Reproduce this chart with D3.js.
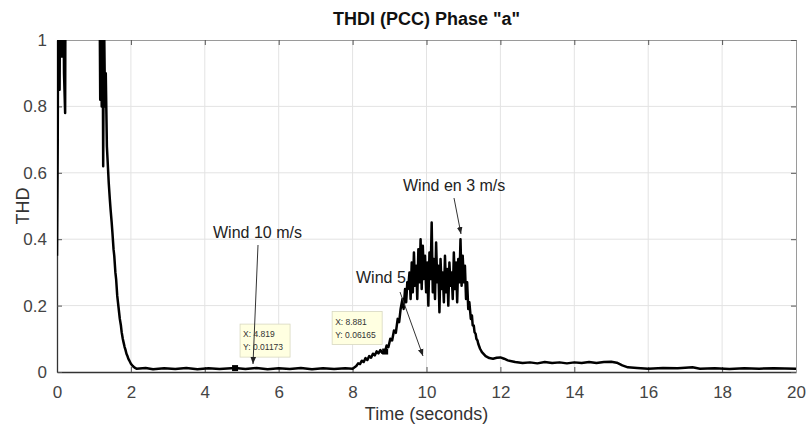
<!DOCTYPE html>
<html>
<head>
<meta charset="utf-8">
<script src="https://cdn.jsdelivr.net/npm/d3@7"></script>
<style>
  body { margin: 0; background: #fff; }
  svg { display: block; font-family: "Liberation Sans", Arial, sans-serif; }
</style>
</head>
<body>
<svg id="chart" width="807" height="436"></svg>
<script>
// [time (s), THD], segment by segment
const startUp = [
  [0.00, 0.35], [0.02, 0.70], [0.04, 1.40], [0.07, 0.85], [0.10, 1.50], [0.13, 0.95],
  [0.16, 1.40], [0.19, 0.90], [0.22, 0.78], [0.24, 1.60], [0.40, 1.80], [0.80, 1.90],
  [1.12, 1.70], [1.15, 1.20], [1.17, 0.82], [1.19, 1.30], [1.21, 0.80], [1.23, 1.20],
  [1.25, 0.62], [1.27, 1.10], [1.30, 0.80], [1.32, 0.90], [1.35, 0.68], [1.40, 0.57],
  [1.43, 0.52], [1.45, 0.49], [1.48, 0.45], [1.50, 0.42], [1.53, 0.37], [1.55, 0.35],
  [1.58, 0.30], [1.60, 0.28], [1.63, 0.23], [1.65, 0.21], [1.68, 0.18], [1.70, 0.16],
  [1.73, 0.14], [1.75, 0.12], [1.78, 0.10], [1.80, 0.09], [1.83, 0.075], [1.85, 0.068],
  [1.88, 0.055], [1.90, 0.05], [1.93, 0.04], [1.95, 0.036], [2.00, 0.025],
  [2.05, 0.018], [2.10, 0.013], [2.15, 0.010]
];
const wind10 = [
  [2.4, 0.012], [2.6, 0.008], [2.9, 0.011], [3.2, 0.009], [3.5, 0.012], [3.8, 0.008],
  [4.1, 0.011], [4.4, 0.009], [4.819, 0.01173], [5.1, 0.009], [5.4, 0.012], [5.7, 0.008],
  [6.0, 0.011], [6.3, 0.009], [6.6, 0.012], [6.9, 0.008], [7.2, 0.011], [7.5, 0.009],
  [7.8, 0.011], [8.0, 0.010]
];
const wind5 = [
  [8.10, 0.018], [8.15, 0.026], [8.20, 0.024], [8.25, 0.034], [8.30, 0.030], [8.35, 0.042],
  [8.40, 0.036], [8.45, 0.048], [8.50, 0.043], [8.55, 0.055], [8.60, 0.050], [8.65, 0.062],
  [8.70, 0.056], [8.75, 0.066], [8.80, 0.058], [8.881, 0.06165], [8.92, 0.080], [8.97, 0.075],
  [9.02, 0.100], [9.07, 0.095], [9.12, 0.125], [9.17, 0.118], [9.22, 0.160], [9.26, 0.150],
  [9.30, 0.19], [9.35, 0.22], [9.38, 0.19], [9.42, 0.25], [9.45, 0.21], [9.48, 0.27]
];
const wind3 = [
  [9.50, 0.25], [9.54, 0.30], [9.57, 0.22], [9.60, 0.33], [9.63, 0.24], [9.66, 0.36],
  [9.69, 0.26], [9.72, 0.32], [9.75, 0.22], [9.78, 0.37], [9.81, 0.27], [9.84, 0.40],
  [9.87, 0.25], [9.90, 0.38], [9.93, 0.28], [9.96, 0.35], [9.99, 0.24], [10.02, 0.33],
  [10.05, 0.20], [10.08, 0.36], [10.11, 0.28], [10.14, 0.45], [10.17, 0.24], [10.20, 0.34],
  [10.23, 0.22], [10.26, 0.39], [10.29, 0.27], [10.32, 0.32], [10.35, 0.18], [10.38, 0.34],
  [10.41, 0.25], [10.44, 0.30], [10.47, 0.21], [10.50, 0.35], [10.53, 0.24], [10.56, 0.31],
  [10.59, 0.20], [10.62, 0.33], [10.65, 0.26], [10.68, 0.30], [10.71, 0.22], [10.74, 0.36],
  [10.77, 0.25], [10.80, 0.33], [10.83, 0.21], [10.86, 0.34], [10.89, 0.27], [10.92, 0.40],
  [10.95, 0.26], [10.98, 0.35], [11.01, 0.27], [11.04, 0.32], [11.07, 0.22], [11.10, 0.27],
  [11.13, 0.19], [11.16, 0.21], [11.20, 0.16], [11.23, 0.17], [11.25, 0.14], [11.28, 0.14],
  [11.30, 0.12], [11.33, 0.115], [11.35, 0.10], [11.38, 0.095], [11.40, 0.085], [11.45, 0.07],
  [11.50, 0.06]
];
const tail = [
  [11.60, 0.048], [11.70, 0.042], [11.80, 0.040], [11.90, 0.043], [12.00, 0.044], [12.10, 0.040],
  [12.20, 0.035], [12.40, 0.030], [12.60, 0.027], [12.80, 0.029], [13.00, 0.026], [13.20, 0.030],
  [13.40, 0.027], [13.60, 0.029], [13.80, 0.026], [14.00, 0.029], [14.20, 0.027], [14.40, 0.030],
  [14.60, 0.027], [14.80, 0.030], [15.00, 0.031], [15.15, 0.028], [15.30, 0.020], [15.45, 0.014],
  [15.70, 0.012], [16.00, 0.010], [16.40, 0.012], [16.80, 0.011], [17.20, 0.014], [17.40, 0.010],
  [17.80, 0.011], [18.20, 0.009], [18.60, 0.011], [19.00, 0.010], [19.40, 0.011], [20.00, 0.010]
];

const xTicks = [0, 2, 4, 6, 8, 10, 12, 14, 16, 18, 20];
const yTicks = [0, 0.2, 0.4, 0.6, 0.8, 1];
const dataTips = [
  { t: 4.819, v: 0.01173, lx: 'X: 4.819', ly: 'Y: 0.01173' },
  { t: 8.881, v: 0.06165, lx: 'X: 8.881', ly: 'Y: 0.06165' }
];

const signal = startUp.concat(wind10, wind5, wind3, tail);

const margin = { top: 40, right: 11, bottom: 64, left: 57 };
const width = 807, height = 436;
const w = width - margin.left - margin.right;
const h = height - margin.top - margin.bottom;

const svg = d3.select('#chart');
const g = svg.append('g').attr('transform', `translate(${margin.left},${margin.top})`);

const x = d3.scaleLinear().domain([0, 20]).range([0, w]);
const y = d3.scaleLinear().domain([0, 1]).range([h, 0]);

// grid
g.append('g').selectAll('line.vg').data(xTicks.slice(1, -1)).join('line')
  .attr('x1', d => x(d)).attr('x2', d => x(d)).attr('y1', 0).attr('y2', h)
  .attr('stroke', '#e3e3e3').attr('stroke-width', 1);
g.append('g').selectAll('line.hg').data(yTicks.slice(1, -1)).join('line')
  .attr('y1', d => y(d)).attr('y2', d => y(d)).attr('x1', 0).attr('x2', w)
  .attr('stroke', '#e3e3e3').attr('stroke-width', 1);

// axes (MATLAB style, ticks inward)
const xAxis = g.append('g').attr('transform', `translate(0,${h})`)
  .call(d3.axisBottom(x).tickValues(xTicks).tickSizeInner(-5).tickSizeOuter(0).tickPadding(14));
const yAxis = g.append('g')
  .call(d3.axisLeft(y).tickValues(yTicks).tickFormat(d3.format('~g')).tickSizeInner(-5).tickSizeOuter(0).tickPadding(10));
g.append('g').call(d3.axisTop(x).tickValues(xTicks).tickSizeInner(-5).tickSizeOuter(0).tickFormat(''));
g.append('g').attr('transform', `translate(${w},0)`)
  .call(d3.axisRight(y).tickValues(yTicks).tickSizeInner(-5).tickSizeOuter(0).tickFormat(''));

svg.selectAll('.domain').attr('stroke', '#9a9a9a');
xAxis.select('.domain').attr('stroke', '#333').attr('stroke-width', 1.3);
yAxis.select('.domain').attr('stroke', '#333').attr('stroke-width', 1.3);
svg.selectAll('.tick line').attr('stroke', '#555');
svg.selectAll('.tick text').attr('fill', '#444').style('font-size', '17px');

// signal
svg.append('defs').append('clipPath').attr('id', 'clip')
  .append('rect').attr('width', w).attr('height', h);
g.append('path').datum(signal)
  .attr('clip-path', 'url(#clip)')
  .attr('fill', 'none').attr('stroke', '#000').attr('stroke-width', 2.5)
  .attr('stroke-linejoin', 'round')
  .attr('d', d3.line().x(d => x(d[0])).y(d => y(d[1])));

// data tip markers and boxes
g.selectAll('rect.mk').data(dataTips).join('rect')
  .attr('x', d => x(d.t) - 3).attr('y', d => y(d.v) - 3)
  .attr('width', 6).attr('height', 6).attr('fill', '#000');

const boxes = [[5, -44, 50, 33], [-53, -40, 50, 33]];
dataTips.forEach((d, i) => {
  const [dx, dy, bw, bh] = boxes[i];
  const bx = x(d.t) + dx, by = y(d.v) + dy;
  g.append('rect').attr('x', bx).attr('y', by).attr('width', bw).attr('height', bh)
    .attr('fill', '#ffffe1').attr('stroke', '#d8d8c0').attr('stroke-width', 0.8);
  g.append('text').attr('x', bx + 3).attr('y', by + 13).text(d.lx)
    .style('font-size', '8.5px').attr('fill', '#333');
  g.append('text').attr('x', bx + 3).attr('y', by + 26).text(d.ly)
    .style('font-size', '8.5px').attr('fill', '#333');
});

// annotations
const defs = svg.select('defs');
defs.append('marker').attr('id', 'arr').attr('viewBox', '0 0 10 10')
  .attr('refX', 10).attr('refY', 5).attr('markerWidth', 7).attr('markerHeight', 7)
  .attr('orient', 'auto-start-reverse')
  .append('path').attr('d', 'M0,1 L10,5 L0,9 z').attr('fill', '#222');

const notes = [
  { text: 'Wind 10 m/s', tx: 213, ty: 238, a: [258, 245, 253, 364] },
  { text: 'Wind 5', tx: 356, ty: 283, a: [400, 292, 423, 356] },
  { text: 'Wind en 3 m/s', tx: 403, ty: 191, a: [454, 198, 461, 234] }
];
notes.forEach(n => {
  svg.append('text').attr('x', n.tx).attr('y', n.ty).text(n.text)
    .style('font-size', '16px').attr('fill', '#222');
  svg.append('line').attr('x1', n.a[0]).attr('y1', n.a[1]).attr('x2', n.a[2]).attr('y2', n.a[3])
    .attr('stroke', '#333').attr('stroke-width', 1).attr('marker-end', 'url(#arr)');
});

// titles
svg.append('text').attr('x', margin.left + w / 2).attr('y', 25).attr('text-anchor', 'middle')
  .style('font-size', '18px').style('font-weight', 'bold').attr('fill', '#111')
  .text('THDI (PCC) Phase "a"');
svg.append('text').attr('x', margin.left + w / 2).attr('y', 420).attr('text-anchor', 'middle')
  .style('font-size', '18px').attr('fill', '#333').text('Time (seconds)');
svg.append('text').attr('transform', `translate(29,${margin.top + h / 2}) rotate(-90)`)
  .attr('text-anchor', 'middle').style('font-size', '18px').attr('fill', '#333').text('THD');
</script>
</body>
</html>
